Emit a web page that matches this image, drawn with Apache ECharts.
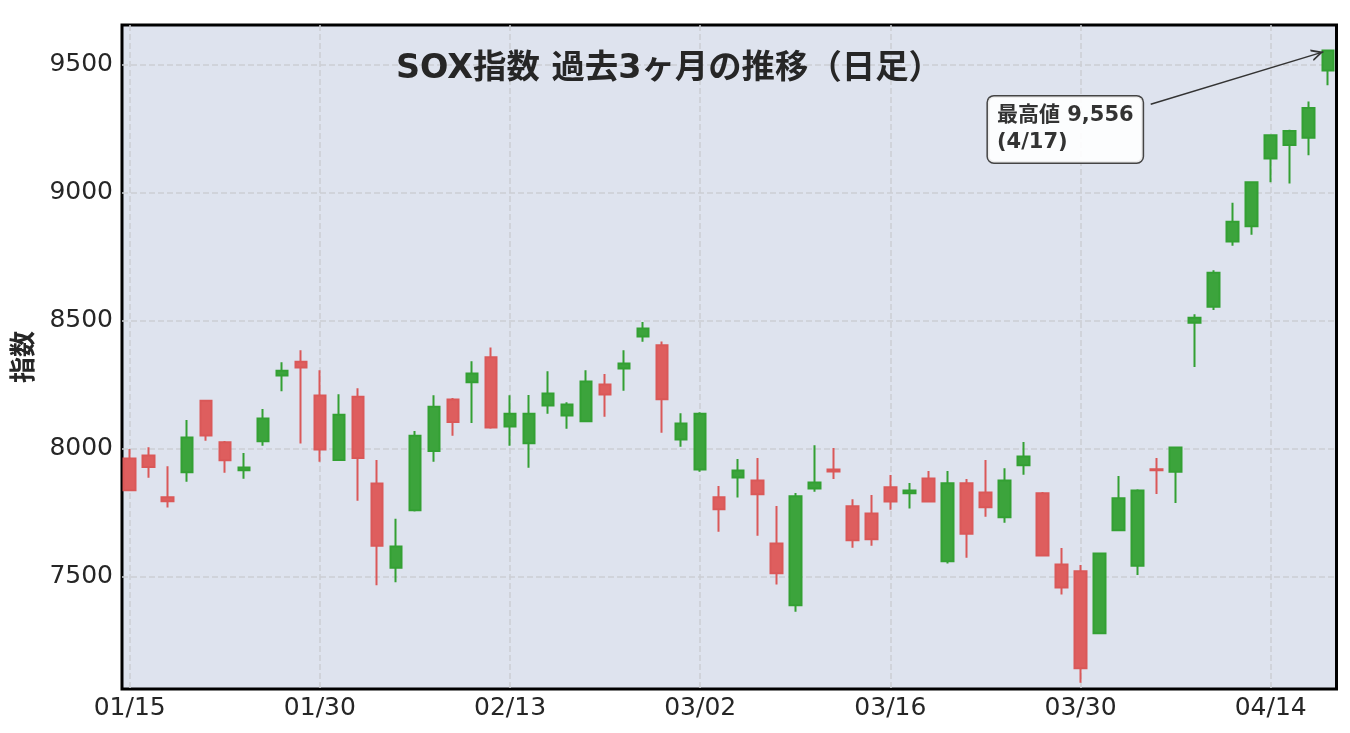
<!DOCTYPE html>
<html>
<head>
<meta charset="utf-8">
<script src="https://cdn.jsdelivr.net/npm/echarts@6/dist/echarts.min.js"></script>
<style>
html,body{margin:0;padding:0;background:#fff;}
#chart{width:1350px;height:733px;}
</style>
</head>
<body>
<div id="chart"></div>
<script>
const dates = ['01/15','01/16','01/20','01/21','01/22','01/23','01/26','01/27','01/28','01/29',
  '01/30','02/02','02/03','02/04','02/05','02/06','02/09','02/10','02/11','02/12',
  '02/13','02/17','02/18','02/19','02/20','02/23','02/24','02/25','02/26','02/27',
  '03/02','03/03','03/04','03/05','03/06','03/09','03/10','03/11','03/12','03/13',
  '03/16','03/17','03/18','03/19','03/20','03/23','03/24','03/25','03/26','03/27',
  '03/30','03/31','04/01','04/02','04/06','04/07','04/08','04/09','04/10','04/13',
  '04/14','04/15','04/16','04/17'];
const opens = [7962,7974,7810,7908,8188,8025,7916,8029,8286,8340,
  8208,7956,8203,7864,7535,7760,7991,8192,8260,8358,
  8087,8021,8169,8130,8107,8251,8314,8439,8404,8036,
  7919,7810,7888,7876,7630,7388,7845,7919,7775,7747,
  7849,7826,7884,7560,7865,7829,7732,7935,7826,7548,
  7521,7279,7681,7543,7920,7910,8492,8555,8810,8869,
  9134,9187,9215,9478];
const closes = [7838,7929,7795,8044,8052,7955,7927,8118,8305,8317,
  7997,8133,7964,7621,7618,8051,8164,8104,8294,8083,
  8137,8137,8216,8173,8263,8212,8333,8470,8193,8099,
  8137,7763,7915,7822,7513,7814,7868,7911,7642,7646,
  7794,7837,7794,7865,7668,7771,7876,7970,7583,7458,
  7142,7591,7806,7837,7916,8005,8512,8688,8887,9041,
  9225,9242,9332,9556];
const lows = [7836,7887,7770,7871,8031,7906,7883,8012,8225,8020,
  7949,7955,7797,7466,7478,7755,7949,8051,8101,8078,
  8012,7926,8137,8078,8107,8125,8227,8418,8062,8008,
  7910,7676,7809,7660,7469,7363,7832,7882,7613,7621,
  7762,7766,7794,7551,7574,7734,7711,7898,7583,7430,
  7085,7278,7681,7507,7823,7788,8319,8542,8793,8836,
  9041,9037,9147,9421];
const highs = [7999,8006,7932,8112,8190,8030,7983,8155,8338,8385,
  8307,8213,8236,7956,7726,8069,8209,8198,8342,8396,
  8209,8210,8303,8182,8307,8292,8385,8495,8419,8139,
  8143,7854,7960,7964,7776,7827,8014,8003,7803,7819,
  7897,7866,7913,7913,7882,7956,7924,8026,7831,7612,
  7546,7592,7893,7842,7964,8005,8526,8698,8961,9041,
  9225,9247,9357,9556];
const xTickIdx = [0,10,20,30,40,50,60];
const yTicks = [7500,8000,8500,9000,9500];

const FONT = "'DejaVu Sans','Noto Sans CJK JP',sans-serif";
const candles = dates.map((d, i) => [i, opens[i], closes[i], lows[i], highs[i]]);
const lastIdx = dates.length - 1;
const maxHigh = Math.max.apply(null, highs);
const maxIdx = highs.indexOf(maxHigh);
const maxDate = dates[maxIdx].split('/').map(s => String(parseInt(s, 10))).join('/');
const annText = '最高値 ' + maxHigh.toLocaleString('en-US') + '\n(' + maxDate + ')';

const chevron = 'path://M5,0 L5.001,0 Z M5,10 L10,20 L8.4,20 L5,13.2 L1.6,20 L0,20 Z';

const chart = echarts.init(document.getElementById('chart'), null, {renderer: 'canvas'});
chart.setOption({
  animation: false,
  backgroundColor: '#ffffff',
  textStyle: {fontFamily: FONT},
  grid: {
    left: 122, right: 13.5, top: 25, bottom: 44,
    outerBoundsMode: 'none', containLabel: false,
    show: true, backgroundColor: '#dee3ee', borderColor: '#000000', borderWidth: 3
  },
  xAxis: {
    type: 'value', min: -0.405, max: 63.46,
    axisLine: {show: false},
    axisTick: {show: false, customValues: xTickIdx},
    axisLabel: {
      customValues: xTickIdx, margin: 7,
      formatter: v => dates[Math.round(v)] || '',
      fontSize: 25, color: '#262626', fontFamily: FONT
    },
    splitLine: {show: true, lineStyle: {color: '#cbced4', width: 1.5, type: [6, 3]}}
  },
  yAxis: {
    type: 'value', min: 7061, max: 9656,
    name: '指数', nameLocation: 'middle', nameGap: 68, nameRotate: 90,
    nameTextStyle: {fontSize: 26, fontWeight: 'bold', color: '#262626', fontFamily: FONT},
    axisLine: {show: false},
    axisTick: {show: false, customValues: yTicks},
    axisLabel: {
      customValues: yTicks, margin: 9, fontSize: 25, color: '#262626', fontFamily: FONT,
      formatter: v => String(Math.round(v))
    },
    splitLine: {show: true, lineStyle: {color: '#cbced4', width: 1.5, type: [6, 3]}}
  },
  graphic: [{
    type: 'text', z: 100, x: 669, y: 69,
    style: {
      text: 'SOX指数 過去3ヶ月の推移（日足）',
      fill: '#262626', fontSize: 33.4, fontWeight: 'bold', fontFamily: FONT,
      align: 'center', verticalAlign: 'middle'
    }
  }],
  series: [{
    type: 'candlestick',
    data: candles,
    barWidth: 12,
    itemStyle: {
      color: '#3ca43c', color0: '#de5e5e',
      borderColor: '#33a033', borderColor0: '#da5858', borderColorDoji: '#da5858',
      borderWidth: 2
    },
    markLine: {
      silent: true, animation: false,
      symbol: ['none', chevron], symbolSize: [0, 24], symbolKeepAspect: true,
      label: {show: false},
      lineStyle: {color: '#333333', width: 1.5, type: 'solid'},
      emphasis: {disabled: true},
      data: [[
        {coord: [53.69, 9346], symbol: 'none'},
        {coord: [lastIdx - 0.23, maxHigh - 5], symbol: chevron, symbolSize: 24, symbolKeepAspect: true}
      ]]
    },
    markPoint: {
      silent: true, animation: false,
      symbol: 'circle', symbolSize: 0,
      data: [{coord: [45.13, 9248]}],
      label: {
        show: true, position: 'right', distance: 0,
        formatter: annText,
        fontSize: 21, fontWeight: 'bold', color: '#333333', fontFamily: FONT,
        lineHeight: 27, align: 'left',
        backgroundColor: 'rgba(255,255,255,0.9)',
        borderColor: '#444444', borderWidth: 1.5, borderRadius: 6,
        padding: [6, 9, 6, 9]
      }
    }
  }]
});
</script>
</body>
</html>
